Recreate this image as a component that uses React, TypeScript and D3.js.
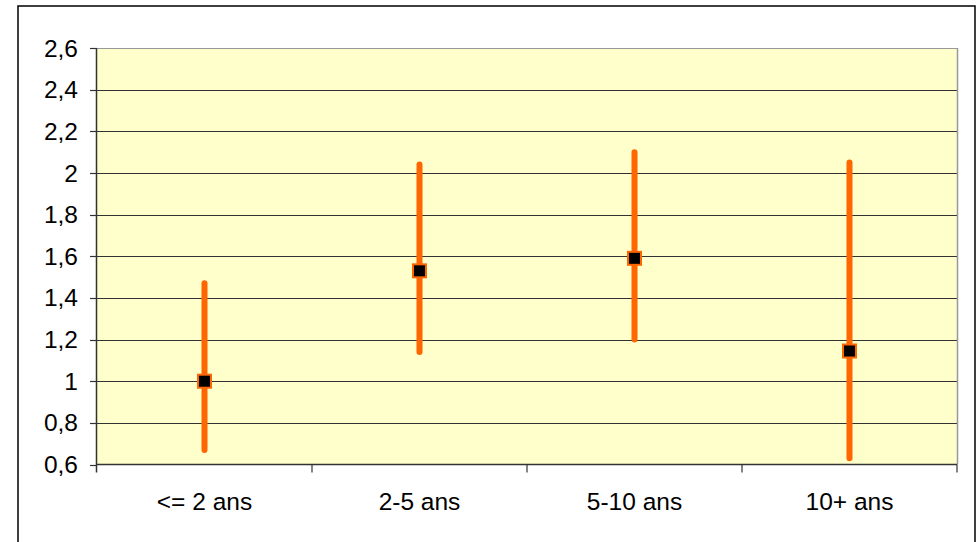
import React from "react";
import * as d3 from "d3";

const categories = ["<= 2 ans", "2-5 ans", "5-10 ans", "10+ ans"];
const estimates = [1.0, 1.53, 1.59, 1.145];
const lowValues = [0.67, 1.14, 1.2, 0.63];
const highValues = [1.47, 2.04, 2.1, 2.05];
const yTicks = [0.6, 0.8, 1.0, 1.2, 1.4, 1.6, 1.8, 2.0, 2.2, 2.4, 2.6];

export default function App() {
  const W = 978, H = 542;
  const left = 97, right = 957, top = 48, bottom = 464.5;
  const x = d3.scaleBand<string>().domain(categories).range([left, right]).padding(0);
  const y = d3.scaleLinear().domain([0.6, 2.6]).range([bottom, top]);
  const fmt = (v: number) => d3.format(".1~f")(v).replace(".", ",");
  const orange = "#FF6600";
  const fs = 24.5;
  return (
    <svg width={W} height={H} style={{ position: "absolute", left: 0, top: 0 }}
      fontFamily="'Liberation Sans', Arial, sans-serif">
      <rect x={0} y={0} width={W} height={H} fill="#fff" />
      <rect x={18} y={6} width={957} height={560} fill="none" stroke="#000" strokeWidth={1.5} />
      <rect x={left} y={top} width={right - left} height={bottom - top} fill="#FFFFCC" />
      {yTicks.map((t) => (
        <g key={t}>
          {t > 0.6 && t < 2.6 && (
            <line x1={left} x2={right} y1={Math.round(y(t)) + 0.5} y2={Math.round(y(t)) + 0.5} stroke="#333" strokeWidth={1.2} />
          )}
          <line x1={left - 7} x2={left} y1={Math.round(y(t)) + 0.5} y2={Math.round(y(t)) + 0.5} stroke="#333" strokeWidth={1.2} />
          <text x={left - 19} y={y(t)} dy="0.35em" textAnchor="end" fontSize={fs} fill="#000">{fmt(t)}</text>
        </g>
      ))}
      <line x1={left} x2={right} y1={top + 0.5} y2={top + 0.5} stroke="#999" strokeWidth={1.2} />
      <line x1={right + 0.5} x2={right + 0.5} y1={top} y2={bottom} stroke="#999" strokeWidth={1.5} />
      <line x1={left - 0.5} x2={left - 0.5} y1={top} y2={bottom + 8} stroke="#333" strokeWidth={1.5} />
      <line x1={left} x2={right} y1={bottom} y2={bottom} stroke="#333" strokeWidth={1.5} />
      {categories.map((c, i) => (
        <line key={"t" + i} x1={(x(c) as number) + x.bandwidth()} x2={(x(c) as number) + x.bandwidth()}
          y1={bottom} y2={bottom + 8} stroke="#333" strokeWidth={1.2} />
      ))}
      {categories.map((c) => (
        <text key={"l" + c} x={(x(c) as number) + x.bandwidth() / 2} y={510}
          textAnchor="middle" fontSize={fs} fill="#000">{c}</text>
      ))}
      {categories.map((c, i) => {
        const cx = (x(c) as number) + x.bandwidth() / 2;
        return (
          <g key={"e" + c}>
            <line x1={cx} x2={cx} y1={y(lowValues[i])} y2={y(highValues[i])} stroke={orange}
              strokeWidth={6} strokeLinecap="round" />
            <rect x={cx - 6.5} y={y(estimates[i]) - 6.5} width={13} height={13} fill="#000"
              stroke={orange} strokeWidth={2} />
          </g>
        );
      })}
    </svg>
  );
}
